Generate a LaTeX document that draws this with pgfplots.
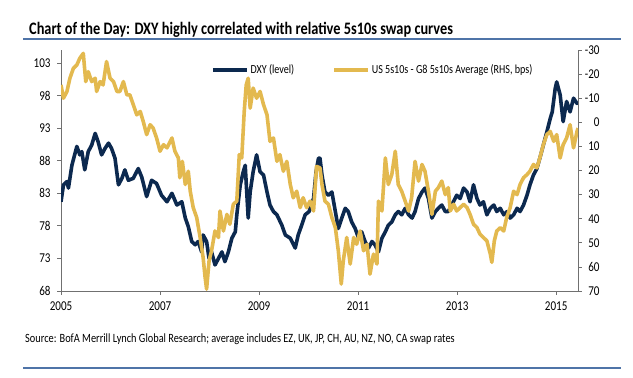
\documentclass[border=0pt]{standalone}
\usepackage{pgfplots}
\pgfplotsset{compat=1.18}
\usepackage{fontspec}
\setmainfont[FakeStretch=0.82]{Carlito}
\definecolor{navy}{HTML}{0C294F}
\definecolor{gold}{HTML}{E3B94F}
\definecolor{rule}{HTML}{4F74A8}
\definecolor{axgray}{HTML}{707070}
\pgfplotstableread{
yr val
2005.00 81.7
2005.05 84.3
2005.12 84.8
2005.15 83.8
2005.22 87.3
2005.32 90.2
2005.38 88.9
2005.42 89.4
2005.48 86.6
2005.55 89.4
2005.62 90.4
2005.69 92.2
2005.75 90.9
2005.82 88.9
2005.89 89.9
2005.96 90.7
2006.02 89.9
2006.09 88.4
2006.16 84.3
2006.23 85.3
2006.29 86.6
2006.36 85.0
2006.46 85.3
2006.56 86.8
2006.63 85.5
2006.73 82.5
2006.83 85.0
2006.93 84.5
2007.03 82.7
2007.14 81.7
2007.24 83.0
2007.34 81.2
2007.44 81.7
2007.51 79.2
2007.57 77.9
2007.64 75.6
2007.71 75.1
2007.77 75.6
2007.84 74.0
2007.87 76.6
2007.94 75.6
2007.99 73.0
2008.04 74.0
2008.11 72.0
2008.18 73.0
2008.25 74.0
2008.31 72.5
2008.38 74.0
2008.45 76.1
2008.52 77.1
2008.55 79.7
2008.62 84.3
2008.68 86.3
2008.72 87.3
2008.78 79.2
2008.82 83.2
2008.88 86.3
2008.95 88.9
2009.02 86.3
2009.09 85.8
2009.16 83.2
2009.22 81.2
2009.29 80.2
2009.36 79.7
2009.46 78.1
2009.53 76.6
2009.63 76.1
2009.73 74.6
2009.79 76.6
2009.86 78.1
2009.93 79.7
2010.01 80.2
2010.10 82.2
2010.15 86.3
2010.20 88.4
2010.23 88.4
2010.27 85.8
2010.33 83.2
2010.40 82.7
2010.47 83.2
2010.54 80.2
2010.60 77.6
2010.67 79.2
2010.74 80.7
2010.80 80.2
2010.87 78.6
2010.94 77.6
2011.01 76.1
2011.07 77.1
2011.14 75.6
2011.21 74.6
2011.28 75.6
2011.34 75.1
2011.41 74.0
2011.48 76.1
2011.55 77.1
2011.61 78.1
2011.68 78.6
2011.75 79.7
2011.81 80.2
2011.88 79.7
2011.95 80.7
2012.02 79.7
2012.09 79.2
2012.15 80.2
2012.22 82.2
2012.29 83.2
2012.35 83.8
2012.42 82.2
2012.49 79.2
2012.56 80.2
2012.62 80.7
2012.69 81.2
2012.76 80.2
2012.82 80.2
2012.89 81.2
2012.99 82.7
2013.06 82.2
2013.13 83.8
2013.20 83.2
2013.26 81.7
2013.33 84.3
2013.40 82.2
2013.46 81.2
2013.53 81.7
2013.60 79.7
2013.67 80.7
2013.74 81.2
2013.80 80.2
2013.87 80.7
2013.94 79.7
2014.01 80.2
2014.07 79.2
2014.14 79.7
2014.21 80.7
2014.27 80.2
2014.34 81.2
2014.41 82.7
2014.47 84.3
2014.54 85.8
2014.61 86.8
2014.67 88.4
2014.74 90.4
2014.81 92.4
2014.88 94.5
2014.92 95.5
2014.98 99.1
2015.01 100.1
2015.08 98.1
2015.14 94.0
2015.21 97.1
2015.28 95.5
2015.35 97.6
2015.42 96.8
2015.44 97.1
}\dxy
\pgfplotstableread{
yr val
2005.00 -15.5
2005.05 -10.0
2005.12 -12.8
2005.18 -18.3
2005.25 -22.4
2005.32 -23.8
2005.38 -26.6
2005.45 -28.6
2005.50 -16.9
2005.55 -21.0
2005.62 -16.9
2005.69 -18.3
2005.72 -12.8
2005.79 -16.9
2005.85 -15.5
2005.92 -25.2
2005.99 -18.3
2006.06 -16.9
2006.13 -12.8
2006.19 -12.8
2006.26 -16.9
2006.33 -11.4
2006.39 -11.4
2006.46 -7.3
2006.53 -3.1
2006.60 -4.5
2006.66 -0.4
2006.73 5.1
2006.80 1.0
2006.86 2.4
2006.93 6.5
2007.00 12.0
2007.07 9.3
2007.14 10.6
2007.24 6.5
2007.30 12.0
2007.37 14.8
2007.40 23.0
2007.45 16.2
2007.51 25.8
2007.57 20.3
2007.61 28.6
2007.67 35.4
2007.74 39.5
2007.81 47.8
2007.87 56.1
2007.91 64.3
2007.94 69.2
2007.99 57.5
2008.04 53.3
2008.11 45.1
2008.18 47.8
2008.21 36.8
2008.28 45.1
2008.35 38.2
2008.41 42.3
2008.48 34.0
2008.55 32.7
2008.60 13.4
2008.65 14.8
2008.70 -4.5
2008.74 -15.5
2008.78 -18.3
2008.82 -5.9
2008.88 -14.2
2008.95 -10.0
2009.02 -12.8
2009.09 -7.3
2009.16 -3.1
2009.22 7.9
2009.29 6.5
2009.36 16.2
2009.42 13.4
2009.49 20.3
2009.56 16.2
2009.63 25.8
2009.69 31.3
2009.76 28.6
2009.83 35.4
2009.89 31.3
2009.96 35.4
2010.03 32.7
2010.10 36.8
2010.16 18.3
2010.23 18.9
2010.27 25.8
2010.33 32.7
2010.40 34.0
2010.47 39.5
2010.54 43.7
2010.60 53.3
2010.66 67.1
2010.70 57.5
2010.77 47.8
2010.84 58.8
2010.91 47.8
2010.97 50.6
2011.04 45.1
2011.11 53.3
2011.18 50.6
2011.24 63.0
2011.31 54.7
2011.38 58.8
2011.41 32.7
2011.48 36.8
2011.55 14.8
2011.61 25.8
2011.68 21.7
2011.75 12.0
2011.81 25.8
2011.88 28.6
2011.95 32.7
2012.02 36.8
2012.08 31.3
2012.15 16.2
2012.22 24.4
2012.29 17.5
2012.35 20.3
2012.42 28.6
2012.49 38.2
2012.56 28.6
2012.62 27.1
2012.69 24.4
2012.76 30.0
2012.82 27.1
2012.86 36.8
2012.93 34.0
2012.99 36.8
2013.06 35.4
2013.13 34.0
2013.20 35.4
2013.26 38.2
2013.33 42.3
2013.40 43.7
2013.46 46.4
2013.53 47.8
2013.60 49.2
2013.67 54.7
2013.70 58.1
2013.75 49.2
2013.80 45.1
2013.87 43.7
2013.94 45.1
2014.00 39.5
2014.07 35.4
2014.14 28.6
2014.21 30.0
2014.27 25.8
2014.34 23.0
2014.41 21.7
2014.47 20.3
2014.54 17.5
2014.61 18.9
2014.67 14.8
2014.74 9.3
2014.81 5.1
2014.88 3.8
2014.95 7.9
2015.01 5.1
2015.08 14.8
2015.14 9.3
2015.21 6.5
2015.28 1.0
2015.35 10.6
2015.42 3.8
2015.44 2.4
}\swap
\begin{document}
\begin{tikzpicture}[x=1pt,y=1pt]
\path (0,0) rectangle (633,378);
\node[anchor=base west, inner sep=0pt, font=\fontsize{17.5}{17.5}\selectfont\bfseries] at (29,343) {Chart of the Day: DXY highly correlated with relative 5s10s swap curves};
\draw[rule, line width=1.2pt] (23,339) -- (621,339);
\node[anchor=base west, inner sep=0pt, font=\fontsize{12.6}{12.6}\selectfont] at (25,35) {Source: BofA Merrill Lynch Global Research; average includes EZ, UK, JP, CH, AU, NZ, NO, CA swap rates};
\draw[rule, line width=1.2pt] (23,10) -- (621,10);
\begin{axis}[
  at={(61pt,87pt)}, anchor=south west,
  width=517pt, height=241pt, scale only axis,
  xmin=2005, xmax=2015.44, ymin=68, ymax=105,
  xtick={2005,2007,2009,2011,2013,2015},
  ytick={68,73,78,83,88,93,98,103},
  axis x line*=bottom, axis y line*=left,
  axis line style={axgray, line width=0.8pt},
  every tick/.style={axgray, line width=0.8pt},
  tick align=outside, major tick length=4pt,
  /pgf/number format/1000 sep={},
  /pgf/number format/assume math mode=true,
  tick label style={font=\fontsize{13.5}{13.5}\selectfont},
  xticklabel style={yshift=-3.5pt},
  yticklabel style={xshift=-3pt},
  legend style={at={(0.29,0.917)}, anchor=west, draw=none, fill=none,
    inner sep=0pt, font=\fontsize{12.3}{12.3}\selectfont,
    /tikz/every even column/.append style={column sep=36pt}},
  legend columns=2,
  legend image code/.code={\draw[#1, line width=3.5pt] (0pt,0pt) -- (34pt,0pt);},
]
\addplot[navy, line width=3.6pt, line join=round] table[x=yr, y=val] {\dxy};
\addlegendentry{DXY (level)}
\addlegendimage{gold, line width=3.6pt}
\addlegendentry{US 5s10s - G8 5s10s Average (RHS, bps)}
\end{axis}
\begin{axis}[
  at={(61pt,87pt)}, anchor=south west,
  width=517pt, height=241pt, scale only axis,
  xmin=2005, xmax=2015.44, ymin=-30, ymax=70, y dir=reverse,
  ytick={-30,-20,-10,0,10,20,30,40,50,60,70},
  axis x line=none, axis y line*=right,
  axis line style={axgray, line width=0.8pt},
  every tick/.style={axgray, line width=0.8pt},
  tick align=outside, major tick length=4pt,
  /pgf/number format/assume math mode=true,
  tick label style={font=\fontsize{13.5}{13.5}\selectfont},
  yticklabel style={text width=15pt, align=right, xshift=-1pt},
]
\addplot[gold, line width=3.6pt, line join=round] table[x=yr, y=val] {\swap};
\end{axis}
\end{tikzpicture}
\end{document}
